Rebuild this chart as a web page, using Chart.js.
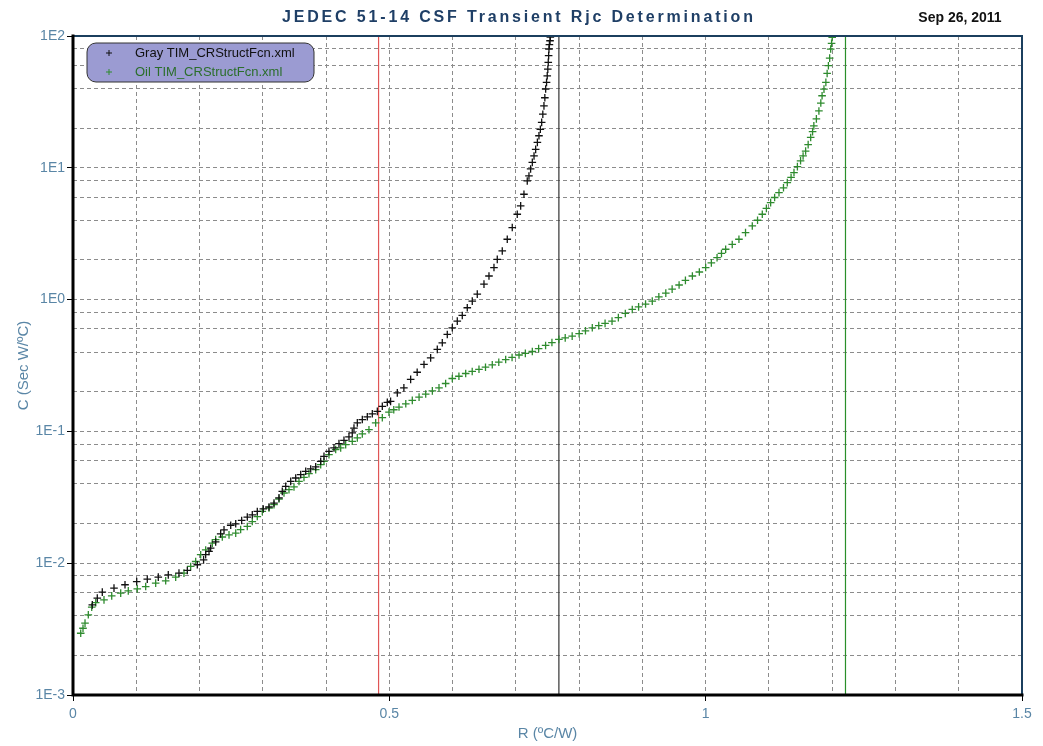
<!DOCTYPE html>
<html>
<head>
<meta charset="utf-8">
<script src="https://cdn.jsdelivr.net/npm/chart.js@4.4.0/dist/chart.umd.min.js"></script>
<style>
html, body { margin: 0; padding: 0; background: #fff; }
#wrap { width: 1043px; height: 746px; }
</style>
</head>
<body>
<div id="wrap"><canvas id="chart"></canvas></div>
<script>
// R (ºC/W) and C (Sec W/ºC)
const grayR = [0.0305, 0.0384, 0.0463, 0.0648, 0.0822, 0.1007, 0.1174, 0.1348, 0.1506, 0.1675,
    0.1807, 0.1965, 0.2064, 0.2097, 0.2150, 0.2176, 0.2255, 0.2334, 0.2387, 0.2493,
    0.2572, 0.2666, 0.2755, 0.2834, 0.2913, 0.3008, 0.3098, 0.3177, 0.3256, 0.3308,
    0.3362, 0.3441, 0.3520, 0.3599, 0.3678, 0.3757, 0.3836, 0.3915, 0.3967, 0.4046,
    0.4125, 0.4204, 0.4283, 0.4362, 0.4414, 0.4441, 0.4494, 0.4573, 0.4652, 0.4731,
    0.4810, 0.4889, 0.4968, 0.5020, 0.5126, 0.5230, 0.5337, 0.5440, 0.5548, 0.5653,
    0.5758, 0.5837, 0.5916, 0.5995, 0.6074, 0.6153, 0.6232, 0.6311, 0.6390, 0.6496,
    0.6575, 0.6654, 0.6706, 0.6785, 0.6864, 0.6943, 0.7022, 0.7076, 0.7128, 0.7180,
    0.7207, 0.7233, 0.7260, 0.7287, 0.7313, 0.7340, 0.7365, 0.7387, 0.7408, 0.7426,
    0.7444, 0.7458, 0.7471, 0.7485, 0.7496, 0.7505, 0.7512, 0.7518, 0.7523, 0.7530,
    0.7540, 0.7545]
const grayC = [0.00483, 0.00543, 0.00603, 0.00647, 0.00686, 0.00726, 0.00757, 0.00784, 0.00816, 0.00841,
    0.00881, 0.00973, 0.0106, 0.0116, 0.0123, 0.0130, 0.0145, 0.0167, 0.0179, 0.0194,
    0.0199, 0.0211, 0.0224, 0.0233, 0.0247, 0.0258, 0.0267, 0.0286, 0.0313, 0.0351,
    0.0383, 0.0418, 0.0443, 0.0470, 0.0498, 0.0519, 0.0538, 0.0593, 0.0647, 0.0706,
    0.0750, 0.0808, 0.0856, 0.0908, 0.0974, 0.106, 0.116, 0.123, 0.129, 0.136,
    0.142, 0.155, 0.166, 0.169, 0.196, 0.214, 0.248, 0.281, 0.322, 0.361,
    0.419, 0.470, 0.544, 0.611, 0.687, 0.758, 0.867, 0.974, 1.10, 1.31,
    1.51, 1.75, 2.02, 2.34, 2.87, 3.52, 4.44, 5.14, 6.30, 7.95,
    8.67, 9.8, 11.0, 12.3, 13.8, 15.6, 17.5, 19.6, 22.1, 25.5,
    29.5, 34.0, 39.6, 44.5, 49.9, 56.0, 63.1, 71.0, 79.7, 86.0,
    92.0, 98.0]

const oilR = [0.0122, 0.0158, 0.0190, 0.0242, 0.0296, 0.0359, 0.0490, 0.0612, 0.0754, 0.0874,
    0.1016, 0.1149, 0.1307, 0.1465, 0.1623, 0.1754, 0.1860, 0.1939, 0.2018, 0.2097,
    0.2202, 0.2255, 0.2360, 0.2466, 0.2572, 0.2650, 0.2755, 0.2834, 0.2913, 0.2992,
    0.3098, 0.3177, 0.3256, 0.3335, 0.3414, 0.3493, 0.3572, 0.3651, 0.3730, 0.3836,
    0.3915, 0.3967, 0.4046, 0.4152, 0.4231, 0.4310, 0.4414, 0.4494, 0.4573, 0.4678,
    0.4784, 0.4889, 0.4994, 0.5070, 0.5153, 0.5260, 0.5363, 0.5470, 0.5575, 0.5680,
    0.5785, 0.5890, 0.5995, 0.6100, 0.6207, 0.6310, 0.6417, 0.6520, 0.6627, 0.6730,
    0.6839, 0.6940, 0.7050, 0.7150, 0.7260, 0.7360, 0.7470, 0.7570, 0.7680, 0.7780,
    0.7890, 0.8000, 0.8100, 0.8208, 0.8310, 0.8410, 0.8520, 0.8620, 0.8730, 0.8840,
    0.8940, 0.9050, 0.9156, 0.9260, 0.9370, 0.9470, 0.9580, 0.9680, 0.9790, 0.9900,
    1.0000, 1.0090, 1.0180, 1.0250, 1.0316, 1.0420, 1.0526, 1.0630, 1.0737, 1.0820,
    1.0895, 1.0960, 1.1027, 1.1090, 1.1159, 1.1230, 1.1290, 1.1350, 1.1396, 1.1450,
    1.1500, 1.1540, 1.1580, 1.1620, 1.1660, 1.1690, 1.1710, 1.1750, 1.1790, 1.1820,
    1.1840, 1.1870, 1.1900, 1.1920, 1.1940, 1.1960, 1.1976, 1.1990, 1.2000]
const oilC = [0.00294, 0.00321, 0.00351, 0.00406, 0.00464, 0.00502, 0.00527, 0.00565, 0.00593, 0.00617,
    0.00639, 0.00665, 0.00706, 0.00735, 0.00784, 0.00841, 0.00945, 0.0103, 0.0116, 0.0126,
    0.0142, 0.0151, 0.0158, 0.0164, 0.0169, 0.0180, 0.0190, 0.0207, 0.0226, 0.0247,
    0.0262, 0.0278, 0.0307, 0.0341, 0.0361, 0.0379, 0.0418, 0.0448, 0.0478, 0.0513,
    0.0560, 0.0593, 0.0667, 0.0728, 0.0750, 0.0794, 0.0841, 0.0893, 0.0957, 0.103,
    0.116, 0.127, 0.140, 0.146, 0.153, 0.162, 0.172, 0.182, 0.192, 0.203,
    0.214, 0.231, 0.252, 0.262, 0.275, 0.285, 0.296, 0.307, 0.320, 0.335,
    0.351, 0.364, 0.380, 0.391, 0.404, 0.425, 0.449, 0.472, 0.499, 0.512,
    0.528, 0.552, 0.580, 0.611, 0.635, 0.660, 0.687, 0.730, 0.785, 0.842,
    0.880, 0.925, 0.974, 1.05, 1.12, 1.20, 1.29, 1.40, 1.51, 1.62,
    1.75, 1.90, 2.08, 2.24, 2.41, 2.62, 2.87, 3.22, 3.62, 4.00,
    4.44, 4.92, 5.44, 5.95, 6.48, 7.05, 7.72, 8.45, 9.20, 10.2,
    11.3, 12.3, 13.4, 15.0, 17.0, 18.8, 20.8, 23.5, 27.0, 31.0,
    35.2, 39.5, 44.5, 52.0, 59.5, 68.0, 79.6, 88.0, 97.7]

// vertical marker lines (R values)
const markerR = [0.483, 0.768, 1.221]
const markerColors = ['#e05555', '#333333', '#2a8f2a']

const seriesLabels = ['Gray TIM_CRStructFcn.xml', 'Oil TIM_CRStructFcn.xml']
const seriesColors = ['#111111', '#2e8b2e']
const legendTextColors = ['#111111', '#2b6e2b']

const yDecades = [-3, -2, -1, 0, 1, 2]
const yMinor = [2, 4, 6, 8]
const xLabelled = [0, 0.5, 1, 1.5]

const titleText = 'JEDEC 51-14 CSF Transient Rjc Determination'
const dateText = 'Sep 26, 2011'

const FONT = "'Liberation Sans', Arial, sans-serif"
const axisBlue = '#5a86a6'

const toPoints = (xs, ys) => xs.map((x, i) => ({ x: x, y: ys[i] }))
const isDecade = (v) => Math.abs(Math.log10(v) - Math.round(Math.log10(v))) < 1e-6
const isLabelledX = (v) => xLabelled.some(l => Math.abs(l - v) < 1e-6)

const datasets = [0, 1].map(i => ({
    label: seriesLabels[i],
    data: toPoints(i === 0 ? grayR : oilR, i === 0 ? grayC : oilC),
    showLine: false,
    pointStyle: 'cross',
    pointRadius: 3.8,
    pointBorderWidth: 1.3,
    pointBorderColor: seriesColors[i],
    borderColor: seriesColors[i],
    order: 1
}))
markerR.forEach((r, i) => {
    datasets.push({
        label: '',
        data: [{ x: r, y: 1e-3 }, { x: r, y: 1e2 }],
        showLine: true,
        borderColor: markerColors[i],
        borderWidth: 1.2,
        pointRadius: 0,
        order: 5
    })
})

const decor = {
    id: 'decor',
    afterDatasetsDraw(chart) {
        const { ctx, chartArea: a } = chart
        ctx.save()
        ctx.lineCap = 'square'
        ctx.strokeStyle = '#1b3f5e'
        ctx.lineWidth = 2
        ctx.beginPath()
        ctx.moveTo(a.left, a.top)
        ctx.lineTo(a.right, a.top)
        ctx.lineTo(a.right, a.bottom)
        ctx.stroke()
        ctx.strokeStyle = '#000'
        ctx.lineWidth = 3
        ctx.beginPath()
        ctx.moveTo(a.left, a.top)
        ctx.lineTo(a.left, a.bottom)
        ctx.lineTo(a.right, a.bottom)
        ctx.stroke()
        ctx.restore()
    },
    afterDraw(chart) {
        const { ctx } = chart
        ctx.save()
        // title, stretched to the reference width
        ctx.font = 'bold 16px ' + FONT
        ctx.fillStyle = '#1f3f66'
        ctx.textBaseline = 'middle'
        const n = titleText.length
        const w = ctx.measureText(titleText).width
        const spacing = Math.max(0, (471 - w) / (n - 1))
        ctx.letterSpacing = spacing + 'px'
        ctx.textAlign = 'left'
        ctx.fillText(titleText, 282, 18)
        ctx.letterSpacing = '0px'
        ctx.font = 'bold 14px ' + FONT
        ctx.fillStyle = '#111'
        ctx.textAlign = 'center'
        ctx.fillText(dateText, 960, 18)

        // legend
        ctx.beginPath()
        ctx.roundRect(87, 43, 227, 39, 9)
        ctx.fillStyle = '#9b9bd2'
        ctx.fill()
        ctx.strokeStyle = '#333'
        ctx.lineWidth = 1
        ctx.stroke()
        ctx.font = '13px ' + FONT
        ctx.textAlign = 'left'
        for (let i = 0; i < 2; i++) {
            const y = 53 + i * 19
            ctx.strokeStyle = seriesColors[i]
            ctx.beginPath()
            ctx.moveTo(106, y); ctx.lineTo(112, y)
            ctx.moveTo(109, y - 3); ctx.lineTo(109, y + 3)
            ctx.stroke()
            ctx.fillStyle = legendTextColors[i]
            ctx.fillText(chart.data.datasets[i].label, 135, y)
        }
        ctx.restore()
    }
}

new Chart(document.getElementById('chart'), {
    type: 'scatter',
    data: { datasets: datasets },
    options: {
        responsive: true,
        maintainAspectRatio: false,
        animation: false,
        layout: { padding: { left: 0, right: 21, top: 36, bottom: 0 } },
        plugins: {
            legend: { display: false },
            tooltip: { enabled: false }
        },
        scales: {
            x: {
                type: 'linear',
                min: 0,
                max: 1.5,
                afterFit: (s) => { s.height = 51 },
                ticks: {
                    stepSize: 0.1,
                    autoSkip: false,
                    maxRotation: 0,
                    padding: 5,
                    color: axisBlue,
                    font: { family: FONT, size: 14 },
                    callback: (v) => isLabelledX(v) ? String(Math.round(v * 10) / 10) : ''
                },
                grid: {
                    color: '#8c8c8c',
                    lineWidth: 1,
                    tickLength: 6,
                    tickColor: (c) => (c.tick && isLabelledX(c.tick.value)) ? '#000' : 'rgba(0,0,0,0)'
                },
                border: { display: false, dash: [4, 3] },
                title: {
                    display: true,
                    text: 'R (ºC/W)',
                    color: axisBlue,
                    font: { family: FONT, size: 15 },
                    padding: { top: 0, bottom: 3 }
                }
            },
            y: {
                type: 'logarithmic',
                min: 1e-3,
                max: 1e2,
                afterFit: (s) => { s.width = 73 },
                afterBuildTicks: (s) => {
                    const t = []
                    yDecades.forEach(e => {
                        t.push({ value: Math.pow(10, e) })
                        if (e < 2) yMinor.forEach(m => t.push({ value: m * Math.pow(10, e) }))
                    })
                    s.ticks = t.sort((a, b) => a.value - b.value)
                },
                ticks: {
                    autoSkip: false,
                    padding: 2,
                    color: axisBlue,
                    font: { family: FONT, size: 14 },
                    callback: (v) => isDecade(v) ? '1E' + Math.round(Math.log10(v)) : ''
                },
                grid: {
                    color: '#8c8c8c',
                    lineWidth: 1,
                    tickLength: 6,
                    tickColor: (c) => (c.tick && isDecade(c.tick.value)) ? '#000' : 'rgba(0,0,0,0)'
                },
                border: { display: false, dash: [4, 3] },
                title: {
                    display: true,
                    text: 'C (Sec W/ºC)',
                    color: axisBlue,
                    font: { family: FONT, size: 15 },
                    padding: { top: 15, bottom: 0 }
                }
            }
        }
    },
    plugins: [decor]
})
</script>
</body>
</html>
